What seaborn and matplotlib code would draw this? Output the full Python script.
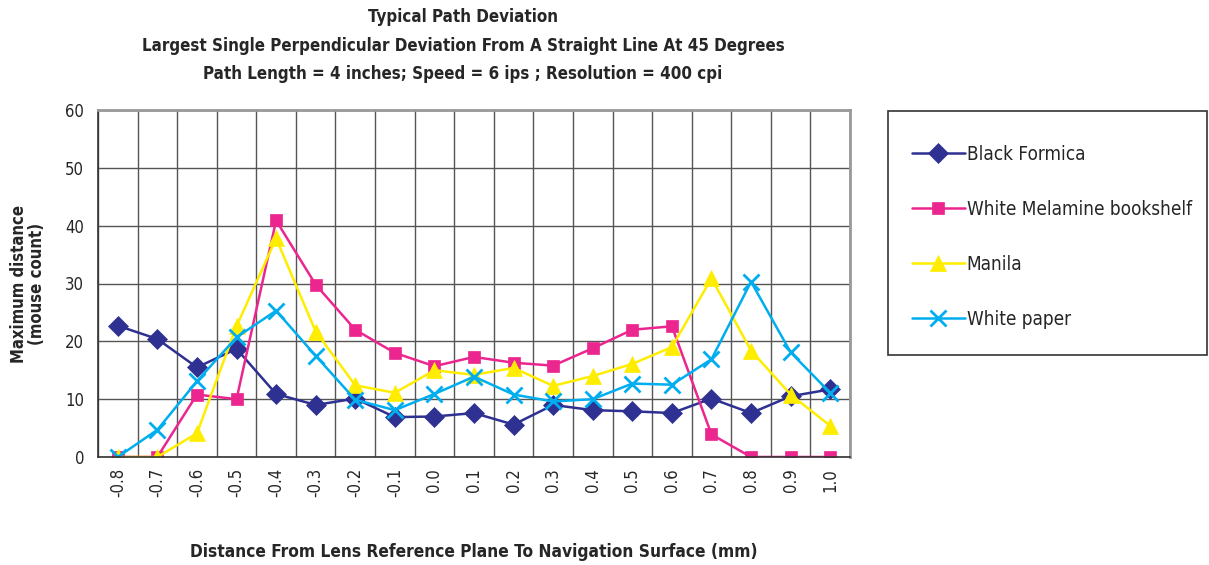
import numpy as np
import pandas as pd
import matplotlib
matplotlib.use("Agg")
import matplotlib.pyplot as plt
import seaborn as sns
from matplotlib.patches import Rectangle

# distance from lens reference plane (mm)
distances = ["-0.8", "-0.7", "-0.6", "-0.5", "-0.4", "-0.3", "-0.2", "-0.1", "0.0",
             "0.1", "0.2", "0.3", "0.4", "0.5", "0.6", "0.7", "0.8", "0.9", "1.0"]

black_formica = [22.7, 20.4, 15.5, 18.7, 10.9, 9.0, 10.1, 6.9, 7.0,
                 7.6, 5.6, 9.0, 8.1, 7.9, 7.6, 10.1, 7.6, 10.5, 11.7]
white_melamine = [0, 0, 10.8, 10.0, 40.9, 29.8, 22.0, 18.0, 15.7,
                  17.3, 16.3, 15.8, 18.8, 22.0, 22.6, 3.9, 0, 0, 0]
manila = [0, 0, 4.1, 22.6, 37.8, 21.7, 12.4, 11.1, 15.0,
          14.2, 15.4, 12.3, 14.0, 16.1, 19.0, 30.9, 18.4, 10.8, 5.4]
white_paper = [0, 4.7, 13.1, 20.7, 25.3, 17.5, 9.9, 8.1, 10.9,
               13.9, 10.8, 9.6, 10.0, 12.7, 12.5, 16.9, 30.3, 18.1, 11.1]

series_names = ["Black Formica", "White Melamine bookshelf", "Manila", "White paper"]
series_values = [black_formica, white_melamine, manila, white_paper]
colors = ["#2E3192", "#EC268F", "#FFED00", "#00AEEF"]
markers = ["D", "s", "^", "x"]
msizes = [10, 9, 11, 11]

sns.set_style("white")
plt.rcParams['font.family'] = ['DejaVu Sans']
plt.rcParams['font.stretch'] = 'condensed'

fig = plt.figure(figsize=(12.09, 5.65), dpi=100)
ax = fig.add_axes([98 / 1209, 1 - 457 / 565, (850 - 98) / 1209, (457 - 110) / 565])

pos = np.arange(len(distances))
handles = []
for name, vals, c, m, ms in zip(series_names, series_values, colors, markers, msizes):
    df = pd.DataFrame({"x": pos, "y": vals})
    sns.lineplot(data=df, x="x", y="y", ax=ax, color=c, marker=m, markersize=ms,
                 markeredgecolor=c, markeredgewidth=2 if m == "x" else 0.5,
                 linewidth=1.8, label=name, legend=False)
    handles.append(ax.lines[-1])

ax.set_xlim(-0.5, len(distances) - 0.5)
ax.set_ylim(0, 60)
ax.set_yticks(range(0, 61, 10))
ax.set_xticks(pos)
ax.set_xticklabels(distances, rotation=90, fontsize=12)
ax.set_xticks(np.arange(-0.5, len(distances), 1), minor=True)
ax.tick_params(axis="x", which="major", length=0, pad=8)
ax.tick_params(axis="x", which="minor", length=8, color="#333333", width=1)
ax.tick_params(axis="y", length=6, color="#333333", labelsize=12, pad=4)
ax.grid(False)
ax.grid(True, axis="x", which="minor", color="#555555", linewidth=1)
ax.grid(True, axis="y", which="major", color="#555555", linewidth=1)
for s in ["left", "bottom"]:
    ax.spines[s].set_color("#333333")
    ax.spines[s].set_linewidth(1.2)
for s in ["top", "right"]:
    ax.spines[s].set_color("#999999")
    ax.spines[s].set_linewidth(2)

ax.set_xlabel("Distance From Lens Reference Plane To Navigation Surface (mm)",
              fontsize=12.4, fontweight="bold", labelpad=33)
ax.set_ylabel("Maximum distance\n(mouse count)", fontsize=12, fontweight="bold",
              labelpad=14, linespacing=1.0)

title_x = 463 / 1209
fig.text(title_x, 1 - 17 / 565, "Typical Path Deviation", ha="center", va="center",
         fontsize=12.2, fontweight="bold")
fig.text(title_x, 1 - 46 / 565, "Largest Single Perpendicular Deviation From A Straight Line At 45 Degrees",
         ha="center", va="center", fontsize=12.2, fontweight="bold")
fig.text(title_x, 1 - 74 / 565, "Path Length = 4 inches; Speed = 6 ips ; Resolution = 400 cpi",
         ha="center", va="center", fontsize=12.2, fontweight="bold")

# legend box
fig.patches.append(Rectangle((888 / 1209, 1 - 355 / 565), (1207 - 888) / 1209, (355 - 111) / 565,
                             transform=fig.transFigure, fill=False, edgecolor="#333333",
                             linewidth=1.2))
fig.legend(handles=handles, labels=series_names, loc="upper left",
           bbox_to_anchor=(895 / 1209, 1 - 128 / 565), frameon=False,
           fontsize=13.6, labelspacing=1.9, handlelength=2.8, handletextpad=0.1)

fig.savefig("out.png", dpi=100)
